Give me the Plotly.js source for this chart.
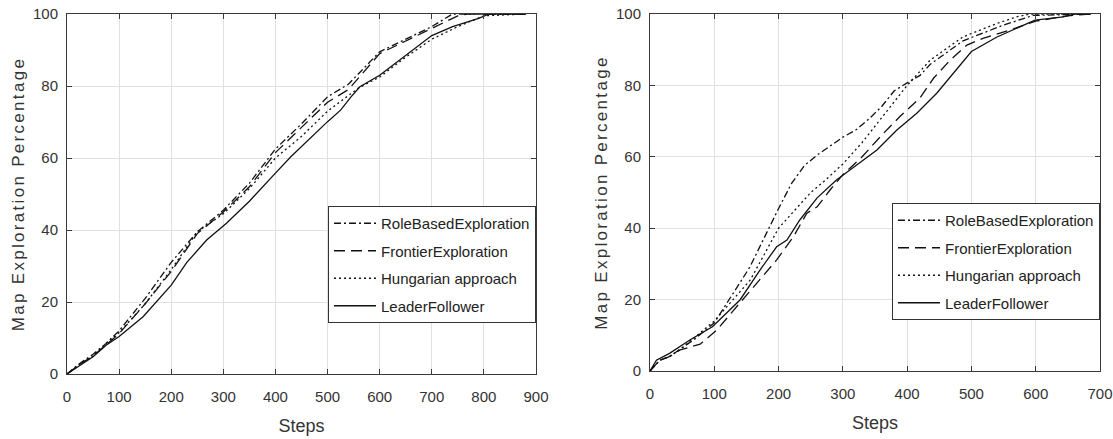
<!DOCTYPE html>
<html>
<head>
<meta charset="utf-8">
<script src="https://cdn.plot.ly/plotly-3.0.1.min.js"></script>
<style>
html,body{margin:0;padding:0;background:#fff;}
#chart{width:1113px;height:439px;}
.ytitle, .y2title { letter-spacing: 2.3px; }
</style>
</head>
<body>
<div id="chart"></div>
<script>
// ---- Left panel data ----
const leftRoleX = [0, 25, 50, 75, 100, 150, 200, 250, 300, 350, 400, 450, 500, 540, 600, 650, 700, 740, 880];
const leftRoleY = [0, 3, 5.5, 8.5, 12, 21, 31, 39.5, 45.5, 53, 62.5, 69.5, 77, 80.5, 89.5, 93, 96.5, 100, 100];
const leftFrontX = [0, 25, 50, 75, 100, 150, 200, 250, 300, 350, 400, 450, 500, 540, 600, 650, 700, 750, 770, 880];
const leftFrontY = [0, 2.8, 5, 8, 11.2, 19.5, 28.5, 39, 45, 52, 61.5, 68.5, 75.5, 79, 89, 92.5, 96, 99.5, 100, 100];
const leftHungX = [0, 25, 50, 75, 100, 150, 200, 250, 300, 350, 400, 450, 500, 540, 560, 600, 650, 700, 750, 800, 880];
const leftHungY = [0, 2.8, 5, 8.5, 11.5, 19.5, 29, 39.5, 44.5, 51.5, 60, 66, 73, 77.5, 79.5, 82.5, 88, 93, 96.5, 99.5, 100];
const leftLeadX = [0, 25, 50, 75, 100, 146, 200, 230, 268, 306, 350, 400, 430, 500, 525, 545, 562, 600, 650, 700, 740, 790, 810, 880];
const leftLeadY = [0, 2.5, 4.8, 8, 10.4, 15.9, 24.7, 31, 37.2, 41.9, 48, 55.8, 60.4, 70.1, 73.3, 77, 79.8, 83, 88.5, 94, 96.5, 98.8, 100, 100];

// ---- Right panel data ----
const rightRoleX = [0, 15, 30, 50, 70, 100, 120, 155, 200, 220, 240, 260, 280, 300, 320, 340, 360, 380, 400, 420, 436, 487, 550, 596, 686];
const rightRoleY = [0, 3, 4, 6.5, 9, 13.5, 19, 29, 45.5, 52.5, 57.5, 60.5, 63, 65.5, 67.5, 70.5, 74, 78.5, 80.7, 82.8, 85.9, 92.5, 96.9, 99.6, 100];
const rightFrontX = [0, 15, 30, 47, 78, 104, 130, 166, 197, 223, 244, 260, 280, 300, 330, 360, 390, 420, 441, 467, 493, 518, 560, 600, 650, 686];
const rightFrontY = [0, 3, 4, 5.9, 7.5, 11.5, 17, 24.6, 31.1, 37.6, 44.2, 46, 50.7, 55, 60, 66, 71.5, 76.5, 82, 87.1, 91.3, 93.2, 95.5, 98, 99.5, 100];
const rightHungX = [0, 15, 30, 50, 100, 156, 200, 230, 250, 270, 300, 330, 360, 400, 436, 487, 539, 570, 591, 686];
const rightHungY = [0, 3, 4, 6.5, 14, 25.5, 40, 46, 50, 53, 58, 64, 71, 80, 87.1, 93.6, 97.3, 99.2, 100, 100];
const rightLeadX = [0, 10, 31, 62, 97, 140, 170, 197, 213, 233, 260, 290, 311, 353, 384, 415, 446, 467, 480, 500, 539, 570, 599, 643, 660, 686];
const rightLeadY = [0, 3, 5, 8.7, 12.4, 19.9, 28, 34.8, 36.7, 42.3, 48.5, 53.5, 56.3, 61.9, 67.5, 72.2, 77.8, 82.4, 85, 89.5, 93.5, 96, 98.3, 99.2, 100, 100];

const seriesNames = ['RoleBasedExploration', 'FrontierExploration', 'Hungarian approach', 'LeaderFollower'];
const dashes = ['7px,3px,2px,3px', '11px,6px', '2px,3px', 'solid'];

const lineColor = '#111';
const fontFam = '"Liberation Sans", Arial, sans-serif';

function mk(x, y, i, panel) {
  return {
    x: x, y: y, type: 'scatter', mode: 'lines', name: seriesNames[i],
    line: {color: lineColor, width: 1.3, dash: dashes[i]},
    xaxis: panel === 1 ? 'x' : 'x2',
    yaxis: panel === 1 ? 'y' : 'y2',
    legend: panel === 1 ? 'legend' : 'legend2',
    legendgroup: 'g' + i + '_' + panel
  };
}

const data = [
  mk(leftRoleX, leftRoleY, 0, 1), mk(leftFrontX, leftFrontY, 1, 1), mk(leftHungX, leftHungY, 2, 1), mk(leftLeadX, leftLeadY, 3, 1),
  mk(rightRoleX, rightRoleY, 0, 2), mk(rightFrontX, rightFrontY, 1, 2), mk(rightHungX, rightHungY, 2, 2), mk(rightLeadX, rightLeadY, 3, 2)
];

const W = 1113, H = 439, mt = 14, mb = 65;
const ph = H - mt - mb;

function xax(dom, rng) {
  return {
    domain: dom, range: rng, dtick: 100, tick0: 0,
    showgrid: true, gridcolor: '#e0e0e0', gridwidth: 1,
    zeroline: false, showline: true, linecolor: '#3a3a3a', linewidth: 1, mirror: 'ticks',
    ticks: 'inside', ticklen: 5, tickcolor: '#3a3a3a',
    ticklabelstandoff: 9,
    tickfont: {family: fontFam, size: 15, color: '#333'},
    title: {text: 'Steps', font: {family: fontFam, size: 18, color: '#333'}, standoff: 15}
  };
}
function yax(anchor, dom) {
  return {
    anchor: anchor, domain: dom, range: [0, 100], dtick: 20, tick0: 0,
    showgrid: true, gridcolor: '#e0e0e0', gridwidth: 1,
    zeroline: false, showline: true, linecolor: '#3a3a3a', linewidth: 1, mirror: 'ticks',
    ticks: 'inside', ticklen: 5, tickcolor: '#3a3a3a',
    ticklabelstandoff: 5,
    tickfont: {family: fontFam, size: 15, color: '#333'},
    title: {text: 'Map Exploration Percentage', font: {family: fontFam, size: 17, color: '#333'}, standoff: 4}
  };
}

const legendBase = {
  bgcolor: '#fff', bordercolor: '#333', borderwidth: 1,
  font: {family: fontFam, size: 15, color: '#222'},
  xanchor: 'right', yanchor: 'top', tracegroupgap: 5,
  itemwidth: 42
};

const layout = {
  width: W, height: H,
  margin: {l: 0, r: 0, t: mt, b: mb},
  paper_bgcolor: '#fff', plot_bgcolor: '#fff',
  font: {family: fontFam},
  showlegend: true,
  xaxis: Object.assign(xax([67 / W, 536 / W], [0, 900]), {anchor: 'y'}),
  yaxis: yax('x', [0, 1]),
  xaxis2: Object.assign(xax([650 / W, 1100 / W], [0, 700]), {anchor: 'y2'}),
  yaxis2: yax('x2', [3 / ph, 1]),
  legend: Object.assign({}, legendBase, {x: 536 / W, y: (H - mb - 206) / ph}),
  legend2: Object.assign({}, legendBase, {x: 1100 / W, y: (H - mb - 203) / ph})
};

Plotly.newPlot('chart', data, layout, {staticPlot: true, displayModeBar: false});
</script>
</body>
</html>
